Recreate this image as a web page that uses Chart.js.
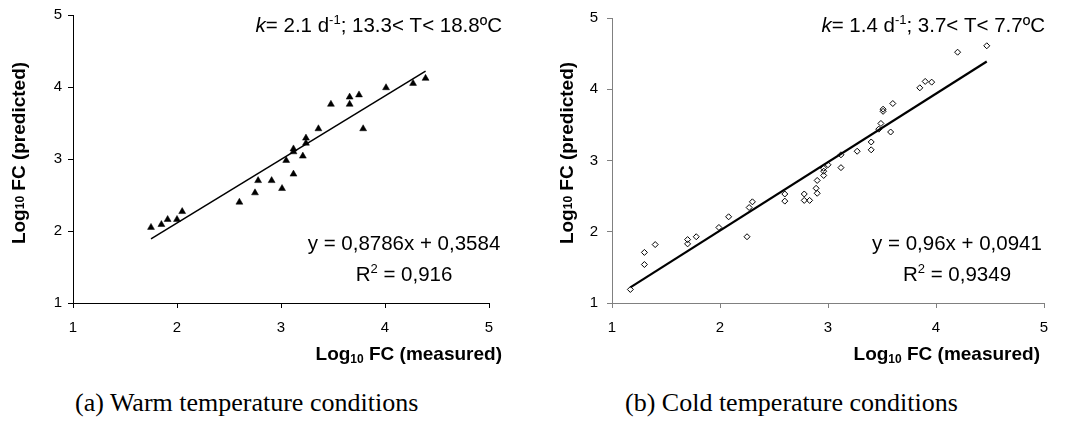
<!DOCTYPE html>
<html>
<head>
<meta charset="utf-8">
<script src="https://cdn.jsdelivr.net/npm/chart.js@4.4.0/dist/chart.umd.min.js"></script>
<style>
  body { margin: 0; background: #fff; width: 1070px; height: 426px; overflow: hidden; position: relative; }
  .box { position: absolute; top: 0; width: 535px; height: 380px; }
  .cap { position: absolute; top: 388px; font-family: "Liberation Serif", "Times New Roman", serif; font-size: 26px; color: #000; white-space: nowrap; }
</style>
</head>
<body>
<div class="box" style="left:0"><canvas id="warmChart" width="535" height="380"></canvas></div>
<div class="box" style="left:535px"><canvas id="coldChart" width="535" height="380"></canvas></div>
<div class="cap" style="left:75px">(a) Warm temperature conditions</div>
<div class="cap" style="left:625px">(b) Cold temperature conditions</div>
<script>
// values
const axisTicks = [1, 2, 3, 4, 5];

const warmMeasured  = [1.75, 1.85, 1.91, 2.00, 2.05, 2.60, 2.75, 2.78, 2.91, 3.01, 3.05, 3.12, 3.12, 3.12, 3.21, 3.24, 3.24, 3.36, 3.48, 3.66, 3.66, 3.75, 3.79, 4.01, 4.27, 4.39];
const warmPredicted = [2.05, 2.09, 2.16, 2.16, 2.27, 2.40, 2.53, 2.70, 2.70, 2.59, 2.98, 2.79, 3.14, 3.10, 3.04, 3.29, 3.22, 3.42, 3.76, 3.86, 3.76, 3.89, 3.42, 3.99, 4.05, 4.12];
const warmFitX = [1.75, 4.39];
const warmFitY = [1.89, 4.22];

const coldMeasured  = [1.17, 1.30, 1.30, 1.40, 1.70, 1.70, 1.78, 1.99, 2.08, 2.25, 2.27, 2.30, 2.60, 2.60, 2.78, 2.78, 2.83, 2.90, 2.89, 2.90, 2.96, 2.96, 2.96, 3.00, 3.12, 3.12, 3.27, 3.40, 3.40, 3.47, 3.49, 3.58, 3.51, 3.51, 3.60, 3.85, 3.90, 3.96, 4.20, 4.47];
const coldPredicted = [1.19, 1.71, 1.54, 1.82, 1.89, 1.83, 1.93, 2.06, 2.21, 1.93, 2.34, 2.42, 2.53, 2.43, 2.53, 2.44, 2.44, 2.54, 2.61, 2.72, 2.79, 2.85, 2.89, 2.94, 2.90, 3.08, 3.13, 3.15, 3.26, 3.44, 3.52, 3.40, 3.72, 3.69, 3.80, 4.02, 4.11, 4.10, 4.52, 4.61];
const coldFitX = [1.17, 4.47];
const coldFitY = [1.22, 4.39];

const SANS = '"Liberation Sans", Arial, sans-serif';

// draw a line of text made of pieces with different fonts / offsets
function drawRich(ctx, parts, x, y, align) {
  let total = 0;
  parts.forEach(p => { ctx.font = p[1]; total += ctx.measureText(p[0]).width; });
  let cx = align === "right" ? x - total : align === "center" ? x - total / 2 : x;
  parts.forEach(p => {
    ctx.font = p[1];
    ctx.fillText(p[0], cx, y + (p[2] || 0));
    cx += ctx.measureText(p[0]).width;
  });
}

const notesPlugin = {
  id: "notes",
  afterDraw(chart, args, opts) {
    const ctx = chart.ctx;
    ctx.save();
    ctx.fillStyle = "#000";
    ctx.textBaseline = "alphabetic";
    ctx.textAlign = "left";
    const big = "20.5px " + SANS, small = "13px " + SANS;
    drawRich(ctx, [["k", "italic " + big], ["= " + opts.k + " d", big], ["-1", small, -8], ["; " + opts.temp, big]], opts.kRight, 32, "right");
    drawRich(ctx, [[opts.eq, big]], opts.eqCenter, 250, "center");
    drawRich(ctx, [["R", big], ["2", small, -8], [" = " + opts.r2, big]], opts.eqCenter, 281, "center");
    // x axis title
    const tb = "bold 19px " + SANS, ts = "bold 12px " + SANS;
    drawRich(ctx, [["Log", tb], ["10", ts, 3], [" FC (measured)", tb]], opts.xtRight, 360, "right");
    // y axis title
    ctx.translate(opts.ytX, 153);
    ctx.rotate(-Math.PI / 2);
    ctx.textBaseline = "middle";
    drawRich(ctx, [["Log", tb], ["10", ts, 1], [" FC (predicted)", tb]], 0, 0, "center");
    ctx.restore();
  }
};

function makeChart(id, xs, ys, fitX, fitY, look) {
  const points = xs.map((x, i) => ({ x: x, y: ys[i] }));
  const fit = fitX.map((x, i) => ({ x: x, y: fitY[i] }));
  const axis = (pad, fitSize) => ({
    type: "linear",
    min: axisTicks[0],
    max: axisTicks[axisTicks.length - 1],
    afterBuildTicks: s => { s.ticks = axisTicks.map(v => ({ value: v })); },
    ticks: { color: "#000", font: { family: SANS, size: 15 }, padding: pad },
    grid: { drawOnChartArea: false, tickLength: 5, color: look.axisColor },
    border: { color: look.axisColor, width: 1 },
    afterFit: fitSize
  });
  return new Chart(document.getElementById(id), {
    type: "scatter",
    data: {
      datasets: [
        {
          data: points,
          pointStyle: look.marker,
          pointRadius: look.radius,
          backgroundColor: look.fill,
          borderColor: "#000",
          borderWidth: look.markerBorder
        },
        {
          data: fit,
          showLine: true,
          borderColor: "#000",
          borderWidth: look.lineWidth,
          pointRadius: 0
        }
      ]
    },
    options: {
      responsive: false,
      animation: false,
      events: [],
      layout: { padding: { top: 14, right: look.padRight, left: 0, bottom: 0 } },
      scales: {
        x: axis(11, s => { s.height = 77; }),
        y: axis(look.yPad, s => { s.width = look.left; })
      },
      plugins: { legend: { display: false }, tooltip: { enabled: false }, notes: look.notes }
    },
    plugins: [notesPlugin]
  });
}

makeChart("warmChart", warmMeasured, warmPredicted, warmFitX, warmFitY, {
  axisColor: "#000", marker: "triangle", radius: 4, fill: "#000", markerBorder: 0.5,
  lineWidth: 1.5, padRight: 46, left: 73, yPad: 6,
  notes: { k: "2.1", temp: "13.3< T< 18.8ºC", kRight: 502, eq: "y = 0,8786x + 0,3584", r2: "0,916", eqCenter: 404, xtRight: 502, ytX: 20 }
});

makeChart("coldChart", coldMeasured, coldPredicted, coldFitX, coldFitY, {
  axisColor: "#808080", marker: "rectRot", radius: 3, fill: "rgba(255,255,255,0)", markerBorder: 1,
  lineWidth: 2.2, padRight: 26, left: 77, yPad: 9,
  notes: { k: "1.4", temp: "3.7< T< 7.7ºC", kRight: 510, eq: "y = 0,96x + 0,0941", r2: "0,9349", eqCenter: 422, xtRight: 505, ytX: 33 }
});
</script>
</body>
</html>
